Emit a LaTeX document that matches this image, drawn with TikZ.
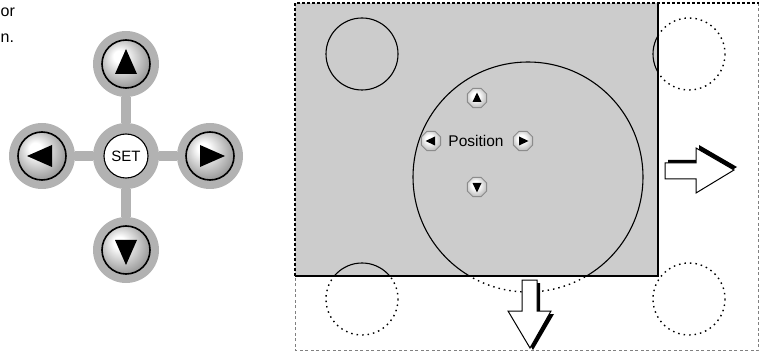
\documentclass[tikz,border=0pt]{standalone}
\usepackage{fontspec}
\setmainfont{Liberation Sans}
\usetikzlibrary{shapes.geometric,calc}
\pgfdeclarelayer{bg}
\pgfsetlayers{bg,main}
\pgfdeclareradialshading{btnshade}{\pgfpoint{-8bp}{9bp}}{color(0bp)=(white); color(6bp)=(white); color(30bp)=(black!42); color(50bp)=(black!45)}
\pgfdeclareradialshading{octshade}{\pgfpoint{-5bp}{7bp}}{color(0bp)=(white); color(10bp)=(white); color(30bp)=(black!30); color(50bp)=(black!35)}
\begin{document}
\begin{tikzpicture}[x=1pt,y=-1pt,
  ring/.style={circle,fill=black!30,minimum size=66pt,inner sep=0pt},
  btn/.style={circle,shading=btnshade,draw=black,line width=1.6pt,minimum size=48pt,inner sep=0pt},
  setbtn/.style={circle,fill=white,draw=black,line width=1.1pt,minimum size=44pt,inner sep=0pt,font=\fontsize{15}{18}\selectfont},
  bar/.style={line width=10pt,draw=black!30},
  oct/.style={regular polygon,regular polygon sides=8,shading=octshade,draw=black!45,line width=1pt,minimum size=21pt,inner sep=0pt},
  solidc/.style={draw=black,line width=1.1pt},
  dotc/.style={draw=black,line width=1.4pt,dash pattern=on 1.5pt off 4pt},
  lbl/.style={inner sep=0pt,font=\fontsize{16}{19}\selectfont},
  arrowbody/.style={fill=white,draw=black,line width=1pt,line join=miter}]
\useasboundingbox (0,0) rectangle (759,352);

% partial text at left
\node[lbl,anchor=base west] (t1) at (0.5,17) {or};
\node[lbl,anchor=base west] (t2) at (0.5,43) {n.};

% ---------- D-pad ----------
\node[ring] (set) at (126,156) {};
\node[ring] (up) at (126,64) {};
\node[ring] (down) at (126,250) {};
\node[ring] (left) at (42,156) {};
\node[ring] (right) at (210,156) {};
\begin{pgfonlayer}{bg}
  \draw[bar] (set) -- (up);
  \draw[bar] (set) -- (down);
  \draw[bar] (set) -- (left);
  \draw[bar] (set) -- (right);
\end{pgfonlayer}
\node[setbtn] (setb) at (set) {SET};
\node[btn] (upb) at (up) {};
\node[btn] (downb) at (down) {};
\node[btn] (leftb) at (left) {};
\node[btn] (rightb) at (right) {};
\fill ($(upb)+(0,-15)$) -- ($(upb)+(11,10)$) -- ($(upb)+(-11,10)$) -- cycle;
\fill ($(downb)+(0,15)$) -- ($(downb)+(11,-10)$) -- ($(downb)+(-11,-10)$) -- cycle;
\fill ($(leftb)+(-15,0)$) -- ($(leftb)+(10,-11)$) -- ($(leftb)+(10,11)$) -- cycle;
\fill ($(rightb)+(15,0)$) -- ($(rightb)+(-10,-11)$) -- ($(rightb)+(-10,11)$) -- cycle;

% ---------- screen ----------
\path[dotc] (689,54) circle[radius=36];
\path[dotc] (362,299) circle[radius=36];
\path[dotc] (689,299) circle[radius=36];
\path[dotc] (528,177) circle[radius=115];
\fill[black!20] (295,3) rectangle (658,276);
\begin{scope}
  \clip (295,3) rectangle (658,276);
  \path[solidc] (362,54) circle[radius=36];
  \path[solidc] (689,54) circle[radius=36];
  \path[solidc] (362,299) circle[radius=36];
  \path[solidc] (528,177) circle[radius=115];
\end{scope}
\draw[black,line width=1.2pt] (295,276) -- (658,276) -- (658,3);
\draw[black!50,line width=0.9pt,dash pattern=on 3pt off 2.5pt] (758.5,3) -- (758.5,350) -- (295,350) -- (295,276);
\draw[black,line width=1.1pt,dash pattern=on 3pt off 2pt] (295,276) -- (295,3) -- (758.5,3);

% Position control
\node[font=\fontsize{15.5}{18}\selectfont,inner sep=0pt] (pos) at (476,141) {Position};
\node[oct] (pu) at (477,98) {};
\node[oct] (pd) at (477,187) {};
\node[oct] (pl) at (431,141) {};
\node[oct] (pr) at (523,141) {};
\fill ($(pu)+(0,-5.5)$) -- ($(pu)+(4.5,4)$) -- ($(pu)+(-4.5,4)$) -- cycle;
\fill ($(pd)+(0,5.5)$) -- ($(pd)+(4.5,-4)$) -- ($(pd)+(-4.5,-4)$) -- cycle;
\fill ($(pl)+(-5.5,0)$) -- ($(pl)+(4,-4.5)$) -- ($(pl)+(4,4.5)$) -- cycle;
\fill ($(pr)+(5.5,0)$) -- ($(pr)+(-4,-4.5)$) -- ($(pr)+(-4,4.5)$) -- cycle;

% right arrow
\fill[black] (668,160) -- (699,160) -- (699,145) -- (737,167) -- (699,190) -- (699,176) -- (668,176) -- cycle;
\draw[arrowbody] (665,163) -- (696,163) -- (696,148) -- (734,170) -- (696,193) -- (696,179) -- (665,179) -- cycle;
% down arrow
\fill[black] (525,283) -- (540,283) -- (540,314) -- (554,314) -- (533,350) -- (511,314) -- (525,314) -- cycle;
\draw[arrowbody] (522,280) -- (537,280) -- (537,311) -- (551,311) -- (530,348) -- (508,311) -- (522,311) -- cycle;
\end{tikzpicture}
\end{document}
